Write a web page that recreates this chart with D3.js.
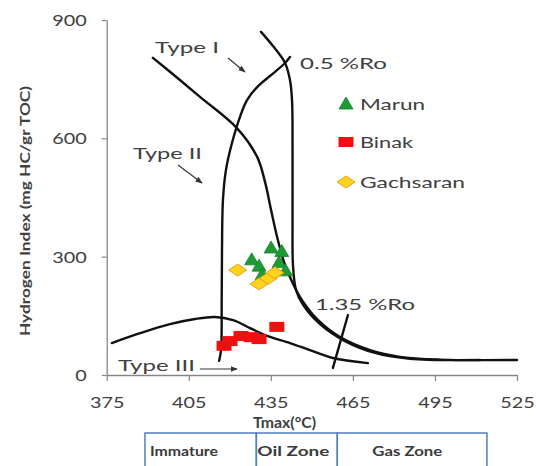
<!DOCTYPE html>
<html>
<head>
<meta charset="utf-8">
<script src="https://cdn.jsdelivr.net/npm/d3@7"></script>
<style>
  html, body { margin: 0; padding: 0; background: #fff; }
  svg { display: block; font-family: Lato, "Open Sans", sans-serif; }
</style>
</head>
<body>
<svg id="chart" width="536" height="466"></svg>
<script>
// Tick values
const xTicks = [375, 405, 435, 465, 495, 525];
const yTicks = [0, 300, 600, 900];

// Samples: Tmax (°C) and Hydrogen Index (mg HC/g TOC)
const marunT   = [435.1, 439.0, 428.0, 430.7, 438.0, 440.4, 431.8];
const marunHI  = [322, 313, 292, 276, 285, 264, 254];
const binakT   = [417.9, 420.1, 424.1, 427.8, 430.7, 437.2];
const binakHI  = [74, 86, 99, 96, 91, 122];
const gachT    = [422.9, 430.7, 434.1, 436.5];
const gachHI   = [266, 231, 245, 259];

// Kerogen type evolution paths [Tmax, HI]
const typeIPath = [
  [431.4, 870], [435.8, 834], [440.2, 791], [442.0, 748], [442.75, 697],
  [442.94, 570], [442.94, 393], [443.1, 279], [444.2, 216], [446.8, 178],
  [453.0, 129], [462.1, 86], [473.1, 56], [485.9, 41], [511.5, 38]
];
const typeIIPath = [
  [391.9, 804], [400.0, 758], [409.1, 705], [422.6, 626], [430.0, 553],
  [432.9, 489], [435.1, 418], [437.3, 350], [439.8, 287], [442.8, 236],
  [446.4, 190], [452.3, 139], [460.3, 96], [471.3, 63], [482.2, 46],
  [496.9, 39], [525, 38]
];
const typeIIIPath = [
  [376.9, 81], [387.2, 106], [398.1, 129], [407.3, 142], [414.6, 147],
  [421.2, 139], [427.4, 119], [433.6, 99], [442.0, 81], [449.3, 63],
  [457.7, 43], [470.5, 30]
];
// Vitrinite reflectance iso-lines
const ro05Path = [
  [442.0, 806], [440.2, 791], [434.7, 758], [430.0, 730], [426.3, 697],
  [423.7, 654], [420.8, 588], [418.6, 520], [417.5, 444], [417.15, 317],
  [417.04, 190], [416.8, 63], [416.1, 36]
];
const ro135Path = [[463.2, 152], [457.7, 18]];

// Maturity zones below the axis
const zoneNames = ["Immature", "Oil Zone", "Gas Zone"];
const zoneEdges = [389.0, 429.7, 459.3, 514.0];

const svg = d3.select("#chart");
const x = d3.scaleLinear().domain([375, 525]).range([106.7, 517]);
const y = d3.scaleLinear().domain([0, 900]).range([375, 20]);

const axisColor = "#868686";
const textColor = "#404040";
const digitW = 11.5;

// Axes
const xAxis = svg.append("g").attr("transform", `translate(0,${y(0)})`)
  .call(d3.axisBottom(x).tickValues(xTicks).tickSize(6).tickSizeOuter(0).tickFormat(d3.format("d")));
const yAxis = svg.append("g").attr("transform", `translate(${x(375)},0)`)
  .call(d3.axisLeft(y).tickValues(yTicks).tickSize(5).tickSizeOuter(0).tickFormat(d3.format("d")));
[xAxis, yAxis].forEach(g => {
  g.select(".domain").attr("stroke", axisColor).attr("stroke-width", 1.3);
  g.selectAll(".tick line").attr("stroke", axisColor).attr("stroke-width", 1.2);
  g.selectAll(".tick text")
    .attr("fill", textColor).attr("font-size", 15.5)
    .attr("font-family", "Lato, sans-serif")
    .attr("text-anchor", "start")
    .attr("lengthAdjust", "spacingAndGlyphs")
    .attr("textLength", d => String(d).length * digitW);
});
xAxis.selectAll(".tick text").attr("dy", "0").attr("y", 33)
  .attr("x", d => -String(d).length * digitW / 2);
yAxis.selectAll(".tick text").attr("dy", "0.36em")
  .attr("x", d => -20 - String(d).length * digitW);

// Axis titles
svg.append("text")
  .attr("x", 253).attr("y", 428)
  .attr("font-weight", "bold").attr("font-size", 15).attr("fill", textColor)
  .attr("lengthAdjust", "spacingAndGlyphs").attr("textLength", 63)
  .text("Tmax(°C)");
svg.append("text")
  .attr("transform", "translate(30,336) rotate(-90)")
  .attr("font-weight", "bold").attr("font-size", 14).attr("fill", textColor)
  .attr("lengthAdjust", "spacingAndGlyphs").attr("textLength", 250)
  .text("Hydrogen Index (mg HC/gr TOC)");

// Evolution curves
const line = d3.line().x(d => x(d[0])).y(d => y(d[1])).curve(d3.curveCatmullRom.alpha(0.5));
[typeIIIPath, typeIIPath, typeIPath, ro05Path, ro135Path].forEach(p => {
  svg.append("path").attr("d", line(p))
    .attr("fill", "none").attr("stroke", "#111").attr("stroke-width", 2.4)
    .attr("stroke-linecap", "round");
});

// Arrow marker for type labels
svg.append("defs").append("marker")
  .attr("id", "arrow").attr("viewBox", "0 0 10 10").attr("refX", 9).attr("refY", 5)
  .attr("markerWidth", 6).attr("markerHeight", 6).attr("orient", "auto")
  .append("path").attr("d", "M0,1 L10,5 L0,9 Z").attr("fill", "#333");

const labels = [
  { text: "Type I",   x: 155, y: 53,  w: 64 },
  { text: "0.5 %Ro",  x: 300, y: 69,  w: 87 },
  { text: "Type II",  x: 133, y: 159, w: 69 },
  { text: "1.35 %Ro", x: 315, y: 310, w: 100 },
  { text: "Type III", x: 118, y: 371, w: 77 }
];
labels.forEach(l => {
  svg.append("text").attr("x", l.x).attr("y", l.y)
    .attr("font-size", 16).attr("fill", textColor)
    .attr("lengthAdjust", "spacingAndGlyphs").attr("textLength", l.w)
    .text(l.text);
});
const arrows = [
  [228, 58, 245, 72],
  [178, 165, 202, 183],
  [200, 369, 237, 369]
];
arrows.forEach(a => {
  svg.append("line").attr("x1", a[0]).attr("y1", a[1]).attr("x2", a[2]).attr("y2", a[3])
    .attr("stroke", "#333").attr("stroke-width", 1.2).attr("marker-end", "url(#arrow)");
});

// Marker shapes
const green = "#1f9b33", red = "#f01010", yellow = "#ffd21c";
function triangle(g, cx, cy) {
  g.append("path").attr("d", `M${cx},${cy - 7} L${cx + 7},${cy + 5} L${cx - 7},${cy + 5} Z`)
    .attr("fill", green).attr("stroke", "#16822a").attr("stroke-width", 0.8);
}
function square(g, cx, cy) {
  g.append("rect").attr("x", cx - 7.5).attr("y", cy - 5).attr("width", 15).attr("height", 10)
    .attr("fill", red);
}
function diamond(g, cx, cy) {
  g.append("path").attr("d", `M${cx},${cy - 6} L${cx + 9},${cy} L${cx},${cy + 6} L${cx - 9},${cy} Z`)
    .attr("fill", yellow).attr("stroke", "#e6a21a").attr("stroke-width", 1);
}

const pts = svg.append("g");
binakT.forEach((t, i) => square(pts, x(t), y(binakHI[i])));
marunT.forEach((t, i) => triangle(pts, x(t), y(marunHI[i])));
gachT.forEach((t, i) => diamond(pts, x(t), y(gachHI[i])));

// Legend
const legend = [
  { name: "Marun", draw: triangle, y: 104, w: 65 },
  { name: "Binak", draw: square, y: 142, w: 53 },
  { name: "Gachsaran", draw: diamond, y: 182, w: 105 }
];
legend.forEach(l => {
  l.draw(svg, 346, l.y);
  svg.append("text").attr("x", 360).attr("y", l.y + 6)
    .attr("font-size", 16).attr("fill", textColor)
    .attr("lengthAdjust", "spacingAndGlyphs").attr("textLength", l.w)
    .text(l.name);
});

// Maturity zone boxes (label inset from each box's left edge)
const zoneTop = 433;
const zoneTextW = [68, 72, 70];
const zoneTextInset = [5, 1, 35];
const zg = svg.append("g");
zoneNames.forEach((name, i) => {
  const x0 = x(zoneEdges[i]), x1 = x(zoneEdges[i + 1]);
  zg.append("rect").attr("x", x0).attr("y", zoneTop).attr("width", x1 - x0).attr("height", 60)
    .attr("fill", "none").attr("stroke", "#4f7fbf").attr("stroke-width", 1.5);
  zg.append("text").attr("x", x0 + zoneTextInset[i]).attr("y", 456)
    .attr("font-size", 14).attr("font-weight", "bold").attr("fill", "#3a3a3a")
    .attr("lengthAdjust", "spacingAndGlyphs").attr("textLength", zoneTextW[i])
    .text(name);
});
</script>
</body>
</html>
